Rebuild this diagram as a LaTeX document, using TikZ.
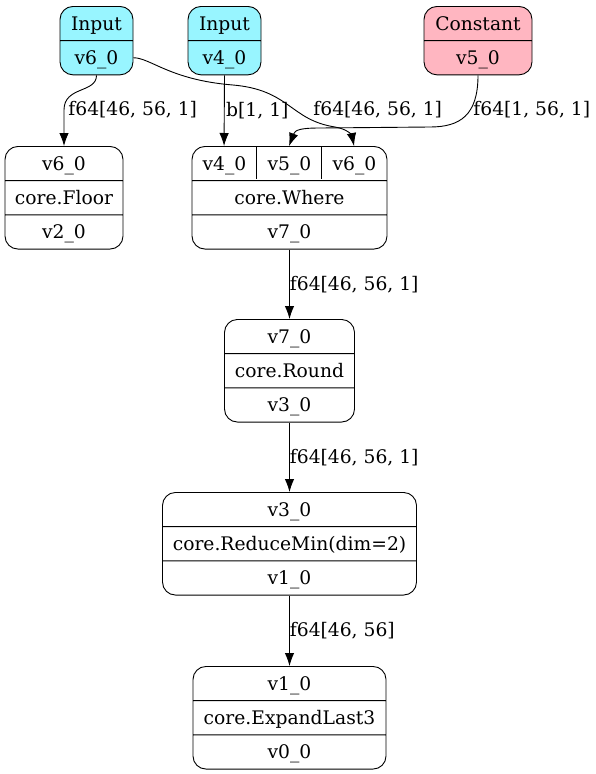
\documentclass[tikz,border=0pt]{standalone}
\usepackage{fontspec}
\setmainfont{DejaVu Serif}
\usetikzlibrary{arrows.meta,shapes.multipart,calc}

\definecolor{inputcol}{HTML}{98F5FF}
\definecolor{constcol}{HTML}{FFB6C1}

\tikzset{
  rec/.style={draw, rounded corners=13pt, rectangle split, rectangle split parts=3,
    anchor=north, inner xsep=0pt, inner ysep=0pt},
  io/.style={draw, rounded corners=13pt, rectangle split, rectangle split parts=2,
    anchor=north, inner xsep=0pt, inner ysep=0pt, minimum width=73pt},
  lbl/.style={anchor=west, inner sep=0pt},
  arr/.style={-{Latex[length=13pt,width=9.5pt]}}
}
\newcommand{\rw}{\rule[-10pt]{0pt}{33.3pt}}

\begin{document}
\begin{tikzpicture}[x=1pt,y=-1pt,line width=0.9pt,
    font=\fontsize{18.7}{22}\selectfont]
    \useasboundingbox (0,0) rectangle (595,774);

    \node[io,fill=inputcol] (in6) at (96.5,6) {\rw Input\nodepart{two}\rw v6\_0};
    \node[io,fill=inputcol] (in4) at (224.5,6) {\rw Input\nodepart{two}\rw v4\_0};
    \node[io,fill=constcol,minimum width=108pt] (cst) at (478,6) {\rw Constant\nodepart{two}\rw v5\_0};

    \node[rec,minimum width=118pt] (floor) at (64,146) {\rw v6\_0\nodepart{two}\rw core.Floor\nodepart{three}\rw v2\_0};
    \node[rec,minimum width=195pt] (where) at (289.5,146)
      {\rw\makebox[65pt]{v4\_0}\makebox[65pt]{v5\_0}\makebox[65pt]{v6\_0}\nodepart{two}\rw core.Where\nodepart{three}\rw v7\_0};
    \node[rec,minimum width=130pt] (round) at (289.5,319) {\rw v7\_0\nodepart{two}\rw core.Round\nodepart{three}\rw v3\_0};
    \node[rec,minimum width=254pt] (rmin) at (289.5,492) {\rw v3\_0\nodepart{two}\rw core.ReduceMin(dim=2)\nodepart{three}\rw v1\_0};
    \node[rec,minimum width=193pt] (expand) at (289.5,666) {\rw v1\_0\nodepart{two}\rw core.ExpandLast3\nodepart{three}\rw v0\_0};

    % ports of core.Where
    \foreach \dx in {65,130}
      \draw ($(where.north west)+(\dx,0)$) -- ++(0,33);
    \coordinate (w4) at ($(where.north west)+(32.5,0)$);
    \coordinate (w5) at ($(where.north west)+(97.5,0)$);
    \coordinate (w6) at ($(where.north west)+(162.5,0)$);

    \draw[arr] (in6.south) .. controls +(0,18) and +(0,-24) .. ($(floor.north)+(0,-36)$) -- (floor.north);
    \draw[arr] (in6.two east) .. controls +(17,0) and +(-63,-5) .. (233,85)
      .. controls +(57,5) and +(-45,-7) .. (335,127) .. controls +(13,2) and +(-2,-10) .. (w6);
    \draw[arr] (cst.south) .. controls +(0,40) and +(30,0) .. (430,127) -- (320,128)
      .. controls +(-20,0) and +(6,-16) .. (w5);
    \path[arr]
    (in4.south) edge node[lbl,xshift=1.5pt] {b[1, 1]} (w4)
    (where.south) edge node[lbl] {f64[46, 56, 1]} (round.north)
    (round.south) edge node[lbl] {f64[46, 56, 1]} (rmin.north)
    (rmin.south) edge node[lbl] {f64[46, 56]} (expand.north)
    ;

    \node[lbl] (l6) at (68,110) {f64[46, 56, 1]};
    \node[lbl] (l66) at (313,110) {f64[46, 56, 1]};
    \node[lbl] (l5) at (473,110) {f64[1, 56, 1]};
  \end{tikzpicture}
\end{document}
